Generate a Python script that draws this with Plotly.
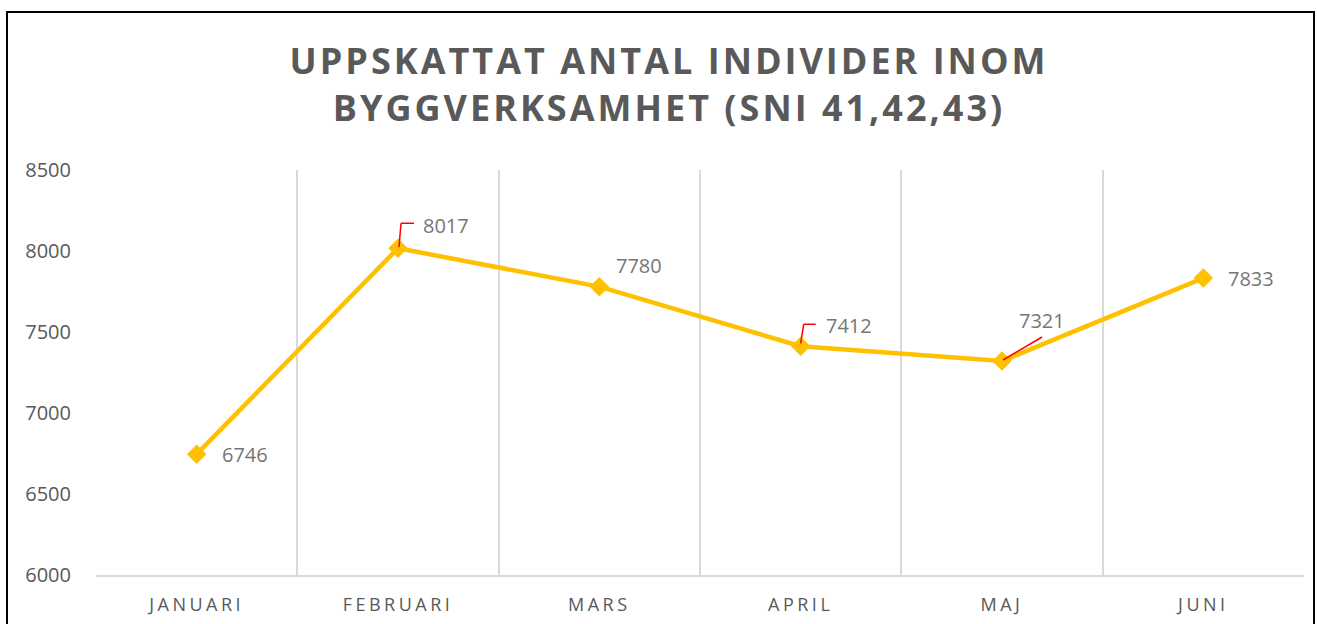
import plotly.graph_objects as go

months = ["JANUARI", "FEBRUARI", "MARS", "APRIL", "MAJ", "JUNI"]
values = [6746, 8017, 7780, 7412, 7321, 7833]
y_ticks = [6000, 6500, 7000, 7500, 8000, 8500]
title_lines = ["UPPSKATTAT ANTAL INDIVIDER INOM", "BYGGVERKSAMHET (SNI 41,42,43)"]

# label offsets in pixels (x shift, y shift) relative to the point
label_shift = [(48, 0), (48, 23), (40, 21), (48, 21), (40, 41), (48, 0)]

LINE = "#FFC000"
GREY = "#595959"
LABEL_GREY = "#767676"

fig = go.Figure()
fig.add_trace(go.Scatter(
    x=months, y=values, mode="lines+markers",
    line=dict(color=LINE, width=4.5),
    marker=dict(symbol="diamond", size=15, color=LINE),
    hoverinfo="x+y", showlegend=False,
))

for m, v, (dx, dy) in zip(months, values, label_shift):
    fig.add_annotation(x=m, y=v, xref="x", yref="y", text=str(v), showarrow=False,
                       xshift=dx, yshift=dy, font=dict(family="Open Sans", size=20, color=LABEL_GREY))

# leader lines (px offsets converted to data units)
px_per_cat = 1208 / 6
px_per_unit = 405 / 2500
def seg(i, v, x0p, y0p, x1p, y1p):
    fig.add_shape(type="line", xref="x", yref="y",
                  x0=i + x0p / px_per_cat, y0=v + y0p / px_per_unit,
                  x1=i + x1p / px_per_cat, y1=v + y1p / px_per_unit,
                  line=dict(color="red", width=1.5))

seg(1, values[1], 1, 1, 3, 25)
seg(1, values[1], 3, 25, 16, 25)
seg(3, values[3], 0, 3, 3, 22)
seg(3, values[3], 3, 22, 15, 22)
seg(4, values[4], 1, 1, 40, 24)

# outer border
fig.add_shape(type="rect", xref="paper", yref="paper",
              x0=(7 - 96) / 1208, x1=(1314 - 96) / 1208,
              y0=(575 - 640) / 405, y1=(575 - 12) / 405,
              line=dict(color="black", width=2), layer="below")

fig.update_layout(
    width=1317, height=624,
    margin=dict(l=96, r=13, t=170, b=49),
    paper_bgcolor="white", plot_bgcolor="white",
    title=dict(text="<b>" + "<br>".join(title_lines) + "</b>",
               x=669 / 1317, xanchor="center", y=1 - 74 / 624, yanchor="top",
               font=dict(family="Open Sans", size=36, color=GREY)),
    xaxis=dict(type="category", tickson="boundaries", showgrid=True, gridcolor="#D9D9D9",
               gridwidth=1.5, showline=True, linecolor="#D9D9D9", linewidth=1.5,
               ticks="", tickmode="array", tickvals=months, ticktext=months,
               ticklabelstandoff=13, automargin=False,
               tickfont=dict(family="Open Sans", size=18, color=GREY),
               range=[-0.5, 5.5]),
    yaxis=dict(range=[6000, 8500], tickvals=y_ticks, showgrid=False, zeroline=False,
               showline=False, ticks="", ticklen=0, ticklabelstandoff=24, automargin=False,
               tickfont=dict(family="Open Sans", size=20, color=GREY)),
)

post = """
document.body.style.margin = '0';
function spacing() {
  document.querySelectorAll('.gtitle').forEach(function(e){ e.style.letterSpacing = '3px'; });
  document.querySelectorAll('.xtick text').forEach(function(e){ e.style.letterSpacing = '3.5px'; });
}
spacing();
setTimeout(spacing, 0);
setTimeout(spacing, 300);
"""

fig.write_html("out.html", post_script=post, config={"displayModeBar": False})
